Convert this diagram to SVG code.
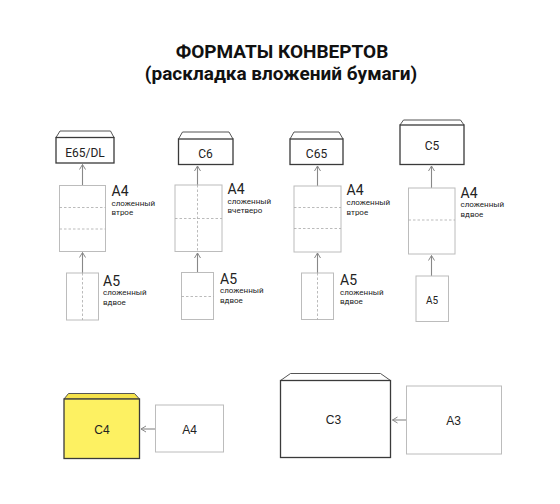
<svg xmlns="http://www.w3.org/2000/svg" width="560" height="504" viewBox="0 0 560 504">
<defs>
<marker id="ah" markerWidth="8" markerHeight="8" refX="6" refY="4" orient="auto" markerUnits="userSpaceOnUse">
<path d="M1,1 L6,4 L1,7" fill="none" stroke="#888" stroke-width="1"/>
</marker>
<style>
.env{fill:#fff;stroke:#3a3a3a;stroke-width:1.3}
.flap{fill:#fff;stroke:#555;stroke-width:1}
.paper{fill:#fff;stroke:#bcbcbc;stroke-width:1}
.fold{fill:none;stroke:#aaa;stroke-width:0.8;stroke-dasharray:2.5,2}
.arr{fill:none;stroke:#888;stroke-width:1.1;marker-end:url(#ah)}
.t{font-family:Roboto,"Liberation Sans",sans-serif;fill:#222}
.big{font-size:14px}
.sm{font-size:8px}
.el{font-size:12px;text-anchor:middle}
.bt{font-family:"Liberation Sans",Arial,sans-serif;font-size:12px;text-anchor:middle;fill:#222}
.title{font-family:Roboto,"Liberation Sans",sans-serif;font-weight:bold;font-size:19px;text-anchor:middle;fill:#111}
</style>
</defs>
<rect width="560" height="504" fill="#fff"/>

<g id="title">
<text class="title" x="282" y="58">ФОРМАТЫ КОНВЕРТОВ</text>
<text class="title" x="281" y="80">(раскладка вложений бумаги)</text>
</g>

<g id="connectors">
<line class="arr" x1="82.5" y1="185.5" x2="82.5" y2="164.5"/>
<line class="arr" x1="82.5" y1="273" x2="82.5" y2="252.5"/>
<line class="arr" x1="197.5" y1="185" x2="197.5" y2="166"/>
<line class="arr" x1="197.5" y1="272.5" x2="197.5" y2="253"/>
<line class="arr" x1="317.5" y1="186" x2="317.5" y2="166"/>
<line class="arr" x1="317.5" y1="273" x2="317.5" y2="253"/>
<line class="arr" x1="431.5" y1="188" x2="431.5" y2="166"/>
<line class="arr" x1="431.5" y1="276" x2="431.5" y2="255.5"/>
<line class="arr" x1="155" y1="429" x2="141" y2="429"/>
<line class="arr" x1="406.5" y1="420" x2="392.5" y2="420"/>
</g>

<g id="env-e65">
<path class="flap" d="M56,137.5 L60,131 L110.5,131 L114,137.5"/>
<rect class="env" x="56" y="137.5" width="58" height="25.5"/>
<text class="t el" x="85" y="156.5">E65/DL</text>
</g>
<g id="a4-e65">
<rect class="paper" x="59.5" y="185.5" width="46" height="66"/>
<line class="fold" x1="59.5" y1="207.5" x2="105.5" y2="207.5"/>
<line class="fold" x1="59.5" y1="229" x2="105.5" y2="229"/>
<text class="t big" x="111.5" y="196">A4</text>
<text class="t sm" x="111.5" y="205.5">сложенный</text>
<text class="t sm" x="111.5" y="215">втрое</text>
</g>
<g id="a5-e65">
<rect class="paper" x="66.5" y="273" width="32" height="47"/>
<line class="fold" x1="82.5" y1="273" x2="82.5" y2="320"/>
<text class="t big" x="103" y="285.5">A5</text>
<text class="t sm" x="103" y="295">сложенный</text>
<text class="t sm" x="103" y="304.5">вдвое</text>
</g>

<g id="env-c6">
<path class="flap" d="M178.5,139 L182.5,132 L229,132 L233,139"/>
<rect class="env" x="178.5" y="139" width="54.5" height="25.5"/>
<text class="t el" x="205.5" y="157.5">C6</text>
</g>
<g id="a4-c6">
<rect class="paper" x="175" y="185" width="47" height="66.5"/>
<line class="fold" x1="175" y1="218.5" x2="222" y2="218.5"/>
<line class="fold" x1="197.5" y1="185" x2="197.5" y2="251.5"/>
<text class="t big" x="227.5" y="194">A4</text>
<text class="t sm" x="227.5" y="203.5">сложенный</text>
<text class="t sm" x="227.5" y="212.5">вчетверо</text>
</g>
<g id="a5-c6">
<rect class="paper" x="181.5" y="272.5" width="32" height="47"/>
<line class="fold" x1="181.5" y1="296.5" x2="213.5" y2="296.5"/>
<text class="t big" x="220" y="283.5">A5</text>
<text class="t sm" x="220" y="293">сложенный</text>
<text class="t sm" x="220" y="302.5">вдвое</text>
</g>

<g id="env-c65">
<path class="flap" d="M290,139 L294,132 L339,132 L343,139"/>
<rect class="env" x="290" y="139" width="53" height="25.5"/>
<text class="t el" x="316.5" y="157.5">C65</text>
</g>
<g id="a4-c65">
<rect class="paper" x="294" y="186" width="47" height="66"/>
<line class="fold" x1="294" y1="207.5" x2="341" y2="207.5"/>
<line class="fold" x1="294" y1="228.5" x2="341" y2="228.5"/>
<text class="t big" x="346.5" y="195">A4</text>
<text class="t sm" x="346.5" y="205">сложенный</text>
<text class="t sm" x="346.5" y="215">втрое</text>
</g>
<g id="a5-c65">
<rect class="paper" x="301.5" y="273" width="32" height="46.5"/>
<line class="fold" x1="317.5" y1="273" x2="317.5" y2="319.5"/>
<text class="t big" x="340" y="285">A5</text>
<text class="t sm" x="340" y="294.5">сложенный</text>
<text class="t sm" x="340" y="304">вдвое</text>
</g>

<g id="env-c5">
<path class="flap" d="M400,125 L403.5,120 L460.5,120 L464,125"/>
<rect class="env" x="400" y="125" width="64" height="39.5"/>
<text class="t el" x="432" y="150">C5</text>
</g>
<g id="a4-c5">
<rect class="paper" x="408.5" y="188" width="46.5" height="66"/>
<line class="fold" x1="408.5" y1="220" x2="455" y2="220"/>
<text class="t big" x="460.5" y="197.5">A4</text>
<text class="t sm" x="460.5" y="207">сложенный</text>
<text class="t sm" x="460.5" y="216.5">вдвое</text>
</g>
<g id="a5-c5">
<rect class="paper" x="416" y="276" width="32.5" height="45.5"/>
<text class="t" x="432" y="303.5" font-size="10" text-anchor="middle">A5</text>
</g>

<g id="env-c4">
<path d="M64,399 L68.5,393.5 L134.5,393.5 L139.5,399 Z" fill="#f5e24a" stroke="#555" stroke-width="1"/>
<rect x="64" y="399" width="75.5" height="59.5" fill="#fdf162" stroke="#3a3a3a" stroke-width="1.3"/>
<text class="bt" x="102" y="434">C4</text>
</g>
<g id="a4-bottom">
<rect class="paper" x="155.5" y="405" width="68" height="47"/>
<text class="bt" x="189.5" y="434">A4</text>
</g>

<g id="env-c3">
<path class="flap" d="M280.5,380.5 L290.5,373.5 L380.5,373.5 L390.5,380.5"/>
<rect class="env" x="280.5" y="380.5" width="110" height="77"/>
<text class="bt" x="333.5" y="424">C3</text>
</g>
<g id="a3-bottom">
<rect class="paper" x="406.5" y="386" width="95" height="68"/>
<text class="bt" x="453.5" y="425">A3</text>
</g>
</svg>
